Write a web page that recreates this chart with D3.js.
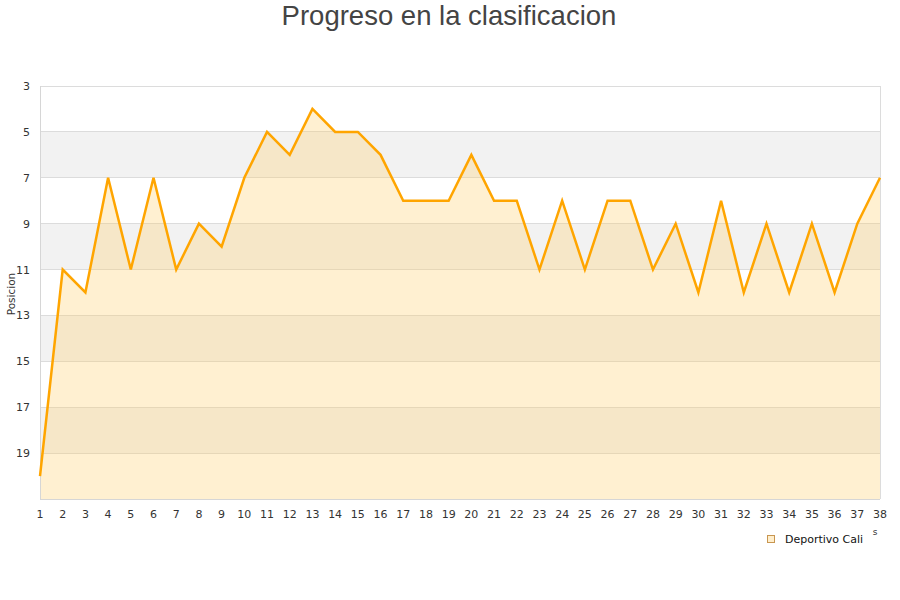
<!DOCTYPE html>
<html><head><meta charset="utf-8">
<script src="https://cdn.jsdelivr.net/npm/d3@7/dist/d3.min.js"></script>
<style>body{margin:0;background:#fff}svg{display:block}</style>
</head><body><svg id="c" width="900" height="600"></svg>
<script>
const jornadas = d3.range(1, 39);
const posiciones = [20,11,12,7,11,7,11,9,10,7,5,6,4,5,5,6,8,8,8,6,8,8,11,8,11,8,8,11,9,12,8,12,9,12,9,12,9,7];
const yTicks = [3,5,7,9,11,13,15,17,19];
const bands = [[5,7],[9,11],[13,15],[17,19]];
const seriesName = "Deportivo Cali";
const titulo = "Progreso en la clasificacion";

const svg = d3.select("#c");
const L = 40, R = 880, T = 86, B = 499;
const x = d3.scaleLinear().domain([1, 38]).range([L, R]);
const y = d3.scaleLinear().domain([3, 21]).range([T, B]);

svg.append("text").attr("x", 449).attr("y", 25).attr("text-anchor", "middle")
  .attr("font-family", "Liberation Sans, Arial, sans-serif").attr("font-size", 27.5)
  .attr("fill", "#444").text(titulo);

svg.append("g").selectAll("rect").data(bands).join("rect")
  .attr("x", L).attr("width", R - L)
  .attr("y", d => y(d[0])).attr("height", d => y(d[1]) - y(d[0]))
  .attr("fill", "#f2f2f2");

svg.append("g").selectAll("line").data(yTicks).join("line")
  .attr("x1", L).attr("x2", R).attr("y1", d => y(d)).attr("y2", d => y(d))
  .attr("stroke", "#dcdcdc").attr("stroke-width", 1).attr("shape-rendering", "crispEdges");

const area = d3.area().x((d, i) => x(jornadas[i])).y0(y(21)).y1(d => y(d));
svg.append("path").datum(posiciones).attr("d", area)
  .attr("fill", "rgb(255,204,102)").attr("fill-opacity", 0.3);

svg.append("line").attr("x1", L).attr("x2", L).attr("y1", T).attr("y2", B)
  .attr("stroke", "#d6d6d6").attr("shape-rendering", "crispEdges");
svg.append("line").attr("x1", R).attr("x2", R).attr("y1", T).attr("y2", B)
  .attr("stroke", "#dcdcdc").attr("shape-rendering", "crispEdges");
svg.append("line").attr("x1", L).attr("x2", R).attr("y1", B).attr("y2", B)
  .attr("stroke", "#d6d6d6").attr("shape-rendering", "crispEdges");

const line = d3.line().x((d, i) => x(jornadas[i])).y(d => y(d));
svg.append("path").datum(posiciones).attr("d", line)
  .attr("fill", "none").attr("stroke", "#ffa500").attr("stroke-width", 2.5)
  .attr("stroke-linejoin", "miter");

svg.append("g").selectAll("text").data(yTicks).join("text")
  .attr("x", 30).attr("y", d => y(d) + 4).attr("text-anchor", "end")
  .attr("font-family", "DejaVu Sans, sans-serif").attr("font-size", 11).attr("fill", "#333")
  .text(d => d);

svg.append("g").selectAll("text").data(jornadas).join("text")
  .attr("x", d => x(d)).attr("y", 518).attr("text-anchor", "middle")
  .attr("font-family", "DejaVu Sans, sans-serif").attr("font-size", 11).attr("fill", "#333")
  .text(d => d);

svg.append("text").attr("transform", "translate(15,294) rotate(-90)")
  .attr("text-anchor", "middle").attr("font-family", "DejaVu Sans, sans-serif")
  .attr("font-size", 10.5).attr("fill", "#333").text("Posicion");

svg.append("text").attr("x", 875).attr("y", 535).attr("text-anchor", "middle")
  .attr("font-family", "DejaVu Sans, sans-serif").attr("font-size", 9).attr("fill", "#333").text("s");

svg.append("rect").attr("x", 767.5).attr("y", 535.5).attr("width", 7).attr("height", 7)
  .attr("fill", "#ffeecc").attr("stroke", "#c89650").attr("stroke-width", 1);
svg.append("text").attr("x", 785).attr("y", 543).attr("font-family", "DejaVu Sans, sans-serif")
  .attr("font-size", 11).attr("fill", "#111").text(seriesName);
</script></body></html>
